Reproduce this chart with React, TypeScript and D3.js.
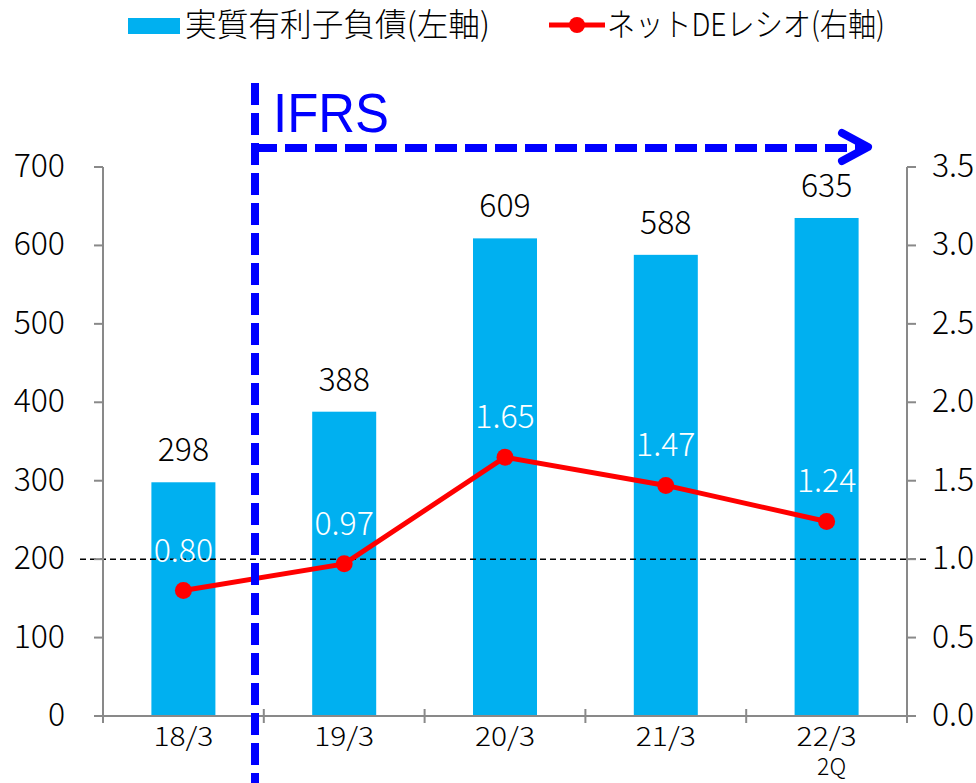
import React from "react";
import * as d3 from "d3";

const categories = ["18/3", "19/3", "20/3", "21/3", "22/3"];
const categorySub = ["", "", "", "", "2Q"];
const debt = [298, 388, 609, 588, 635];
const ratio = [0.8, 0.97, 1.65, 1.47, 1.24];
const ratioLabels = ["0.80", "0.97", "1.65", "1.47", "1.24"];
const leftTicks = [0, 100, 200, 300, 400, 500, 600, 700];
const rightTicks = [0, 0.5, 1.0, 1.5, 2.0, 2.5, 3.0, 3.5];

const W = 976;
const H = 783;
const FONT = "'Noto Sans CJK JP', 'Noto Sans', sans-serif";
const AXIS = "#898989";
const BAR = "#00B0F0";

export default function App() {
  const x0 = 103, x1 = 907, yTop = 167, yBot = 716;
  const x = d3.scaleBand<string>().domain(categories).range([x0, x1]).paddingInner(0).paddingOuter(0);
  const yL = d3.scaleLinear().domain([0, 700]).range([yBot, yTop]);
  const yR = d3.scaleLinear().domain([0, 3.5]).range([yBot, yTop]);
  const bw = 64;
  const cx = (c: string) => (x(c) as number) + x.bandwidth() / 2;
  const line = d3.line<number>().x((_, i) => cx(categories[i])).y((d) => yR(d));
  const boundaries = d3.range(categories.length + 1).map((i) => x0 + i * x.bandwidth());

  return (
    <svg width={W} height={H} style={{ position: "absolute", left: 0, top: 0 }} fontFamily={FONT} fontWeight={300}>
      <rect width={W} height={H} fill="#fff" />
      {/* legend */}
      <rect x={128} y={18} width={52} height={16} fill={BAR} />
      <text x={185} y={36} fontSize={32} fill="#000" textLength={305} lengthAdjust="spacingAndGlyphs">実質有利子負債(左軸)</text>
      <line x1={549} x2={605} y1={25} y2={25} stroke="#FF0000" strokeWidth={5} />
      <circle cx={577} cy={25} r={8} fill="#FF0000" />
      <text x={607} y={36} fontSize={32} fill="#000" textLength={278} lengthAdjust="spacingAndGlyphs">ネットDEレシオ(右軸)</text>

      {/* bars */}
      {debt.map((v, i) => (
        <rect key={"b" + i} x={cx(categories[i]) - bw / 2} y={yL(v)} width={bw} height={yL(0) - yL(v)} fill={BAR} />
      ))}

      {/* reference dashed line at 200 / 1.0 */}
      <line x1={80} x2={928} y1={yL(200)} y2={yL(200)} stroke="#000" strokeWidth={1.5} strokeDasharray="6,4" />

      {/* axes */}
      <line x1={x0} x2={x0} y1={yTop} y2={723} stroke={AXIS} strokeWidth={2} />
      {leftTicks.map((t) => (
        <g key={"lt" + t}>
          <line x1={94} x2={x0} y1={yL(t)} y2={yL(t)} stroke={AXIS} strokeWidth={2} />
          <text x={65} y={yL(t) + 10} fontSize={32} textAnchor="end" fill="#000">{t}</text>
        </g>
      ))}
      <line x1={x1} x2={x1} y1={yTop} y2={723} stroke={AXIS} strokeWidth={2} />
      {rightTicks.map((t) => (
        <g key={"rt" + t}>
          <line x1={x1} x2={916} y1={yR(t)} y2={yR(t)} stroke={AXIS} strokeWidth={2} />
          <text x={932} y={yR(t) + 10} fontSize={32} textAnchor="start" fill="#000">{t.toFixed(1)}</text>
        </g>
      ))}
      <line x1={94} x2={916} y1={yBot} y2={yBot} stroke={AXIS} strokeWidth={2} />
      {boundaries.slice(1, -1).map((b, i) => (
        <line key={"ct" + i} x1={b} x2={b} y1={709} y2={723} stroke={AXIS} strokeWidth={2} />
      ))}
      {categories.map((c, i) => (
        <g key={"cl" + i}>
          <text x={cx(c)} y={746} fontSize={26} textAnchor="middle" fill="#000" textLength={60} lengthAdjust="spacingAndGlyphs">{c}</text>
          {categorySub[i] && (
            <text x={cx(c) + 5} y={775} fontSize={23} textAnchor="middle" fill="#000">{categorySub[i]}</text>
          )}
        </g>
      ))}

      {/* bar value labels */}
      {debt.map((v, i) => (
        <text key={"bv" + i} x={cx(categories[i])} y={yL(v) - 21} fontSize={32} textAnchor="middle" fill="#000">{v}</text>
      ))}

      {/* ratio line */}
      <path d={line(ratio) || ""} fill="none" stroke="#FF0000" strokeWidth={5} />
      {ratio.map((v, i) => (
        <circle key={"pt" + i} cx={cx(categories[i])} cy={yR(v)} r={8.5} fill="#FF0000" />
      ))}
      {ratio.map((v, i) => (
        <text key={"rl" + i} x={cx(categories[i])} y={yR(v) - 29} fontSize={32} textAnchor="middle" fill="#fff">{ratioLabels[i]}</text>
      ))}

      {/* IFRS marker */}
      <line x1={255} x2={255} y1={83} y2={783} stroke="#0000FF" strokeWidth={8} strokeDasharray="22,8" />
      <line x1={255} x2={862} y1={148} y2={148} stroke="#0000FF" strokeWidth={8} strokeDasharray="22,8" />
      <path d="M842,133 L868,147 L842,161" fill="none" stroke="#0000FF" strokeWidth={8} strokeLinecap="round" strokeLinejoin="round" />
      <text x={273} y={132} fontSize={56} fontWeight={400} fill="#0000FF" fontFamily="'Liberation Sans', Arial, sans-serif" textLength={116} lengthAdjust="spacingAndGlyphs">IFRS</text>
    </svg>
  );
}
